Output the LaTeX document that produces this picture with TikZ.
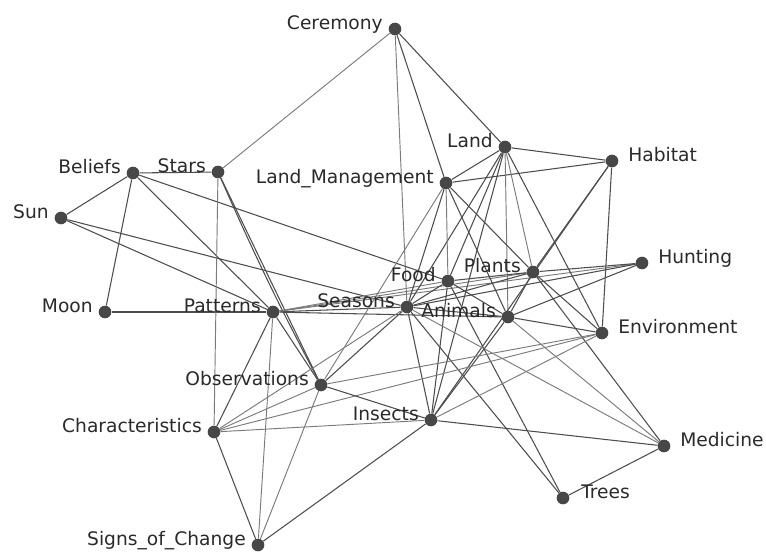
\documentclass[tikz,border=0pt]{standalone}
\usepackage{fontspec}
\setmainfont{DejaVu Sans}
\definecolor{dotc}{HTML}{474747}
\definecolor{edark}{HTML}{4E4E4E}
\definecolor{elight}{HTML}{7A7A7A}
\definecolor{txtc}{HTML}{2A2A2A}
\pgfdeclarelayer{bg}
\pgfsetlayers{bg,main}
\begin{document}
\begin{tikzpicture}[x=0.75pt,y=-0.75pt,
  dot/.style={circle,fill=dotc,inner sep=0pt,minimum size=9.5pt},
  ed/.style={draw=edark,line width=0.8pt},
  el/.style={draw=elight,line width=0.7pt},
  lbl/.style={text=txtc,font=\fontsize{14}{16}\selectfont,inner sep=0pt},
  lblL/.style={lbl,anchor=base east},
  lblR/.style={lbl,anchor=base west}]
\useasboundingbox (0,0) rectangle (766,551);
% nodes
\node[dot] (cer) at (395,29) {};
\node[dot] (land) at (505,147) {};
\node[dot] (hab) at (612,161) {};
\node[dot] (lm) at (446,183) {};
\node[dot] (bel) at (133,173) {};
\node[dot] (sta) at (218,172) {};
\node[dot] (sun) at (61,218) {};
\node[dot] (hun) at (642,263) {};
\node[dot] (foo) at (448,281) {};
\node[dot] (pla) at (533,272) {};
\node[dot] (moo) at (105,312) {};
\node[dot] (pat) at (273,312) {};
\node[dot] (sea) at (407,307) {};
\node[dot] (ani) at (508,317) {};
\node[dot] (env) at (602,333) {};
\node[dot] (obs) at (321,385) {};
\node[dot] (ins) at (431,420) {};
\node[dot] (cha) at (214,432) {};
\node[dot] (med) at (664,446) {};
\node[dot] (tre) at (563,498) {};
\node[dot] (sig) at (258,545) {};
% labels
\node[lblL] (cerT) at (383,29) {Ceremony};
\node[lblL] (landT) at (493,147) {Land};
\node[lblR] (habT) at (628,161) {Habitat};
\node[lblL] (lmT) at (434,183) {Land\_Management};
\node[lblL] (belT) at (121,173) {Beliefs};
\node[lblL] (staT) at (206,172) {Stars};
\node[lblL] (sunT) at (49,218) {Sun};
\node[lblR] (hunT) at (658,263) {Hunting};
\node[lblL] (fooT) at (436,281) {Food};
\node[lblL] (plaT) at (521,272) {Plants};
\node[lblL] (mooT) at (93,312) {Moon};
\node[lblL] (patT) at (261,312) {Patterns};
\node[lblL] (seaT) at (395,307) {Seasons};
\node[lblL] (aniT) at (496,317) {Animals};
\node[lblR] (envT) at (618,333) {Environment};
\node[lblL] (obsT) at (309,385) {Observations};
\node[lblL] (insT) at (419,420) {Insects};
\node[lblL] (chaT) at (202,432) {Characteristics};
\node[lblR] (medT) at (680,446) {Medicine};
\node[lblR] (treT) at (581,498) {Trees};
\node[lblL] (sigT) at (246,545) {Signs\_of\_Change};
\begin{pgfonlayer}{bg}
\draw[el] (cer) -- (sta);
\draw[ed] (cer) -- (land);
\draw[ed] (cer) -- (lm);
\draw[el] (cer) -- (sea);
\draw[ed] (bel) -- (sta);
\draw[ed] (bel) -- (sun);
\draw[ed] (bel) -- (moo);
\draw[ed] (bel) -- (pat);
\draw[ed] (bel) -- (foo);
\draw[ed] (sun) -- (pat);
\draw[ed] (sun) -- (sea);
\draw[ed] (moo) -- (pat);
\draw[el] (sta) -- (cha);
\draw[ed] (sta) -- (obs);
\draw[ed] (sta) to[bend right=2] (obs);
\draw[ed] (pat) -- (obs);
\draw[ed] (pat) -- (cha);
\draw[el] (pat) -- (sig);
\draw[ed] (pat) -- (sea);
\draw[ed] (pat) -- (ani);
\draw[el] (pat) -- (foo);
\draw[el] (pat) -- (pla);
\draw[el] (pat) -- (hun);
\draw[ed] (land) -- (lm);
\draw[ed] (land) -- (hab);
\draw[ed] (lm) -- (hab);
\draw[ed] (land) -- (sea);
\draw[ed] (land) -- (foo);
\draw[ed] (land) -- (ins);
\draw[el] (land) -- (ani);
\draw[el] (land) -- (pla);
\draw[ed] (land) -- (env);
\draw[el] (lm) -- (foo);
\draw[ed] (lm) -- (sea);
\draw[el] (lm) -- (obs);
\draw[ed] (lm) -- (ani);
\draw[ed] (lm) -- (pla);
\draw[ed] (hab) -- (pla);
\draw[ed] (hab) -- (ins);
\draw[ed] (hab) -- (env);
\draw[ed] (hun) -- (pla);
\draw[ed] (hun) -- (ani);
\draw[ed] (hun) -- (sea);
\draw[ed] (foo) -- (sea);
\draw[ed] (foo) -- (pla);
\draw[ed] (foo) -- (ani);
\draw[ed] (foo) -- (ins);
\draw[ed] (foo) -- (tre);
\draw[ed] (sea) -- (ani);
\draw[ed] (sea) -- (pla);
\draw[ed] (sea) -- (obs);
\draw[el] (sea) -- (cha);
\draw[ed] (sea) -- (ins);
\draw[ed] (sea) -- (tre);
\draw[el] (sea) -- (med);
\draw[ed] (ani) -- (env);
\draw[ed] (ani) -- (ins);
\draw[ed] (ani) -- (pla);
\draw[el] (ani) -- (med);
\draw[ed] (pla) -- (env);
\draw[ed] (pla) -- (med);
\draw[el] (env) -- (obs);
\draw[el] (env) -- (ins);
\draw[el] (env) -- (cha);
\draw[ed] (ins) -- (obs);
\draw[el] (ins) -- (cha);
\draw[ed] (ins) -- (sig);
\draw[ed] (ins) -- (med);
\draw[el] (obs) -- (cha);
\draw[el] (obs) -- (sig);
\draw[ed] (cha) -- (sig);
\draw[ed] (med) -- (tre);
\end{pgfonlayer}
\end{tikzpicture}
\end{document}
